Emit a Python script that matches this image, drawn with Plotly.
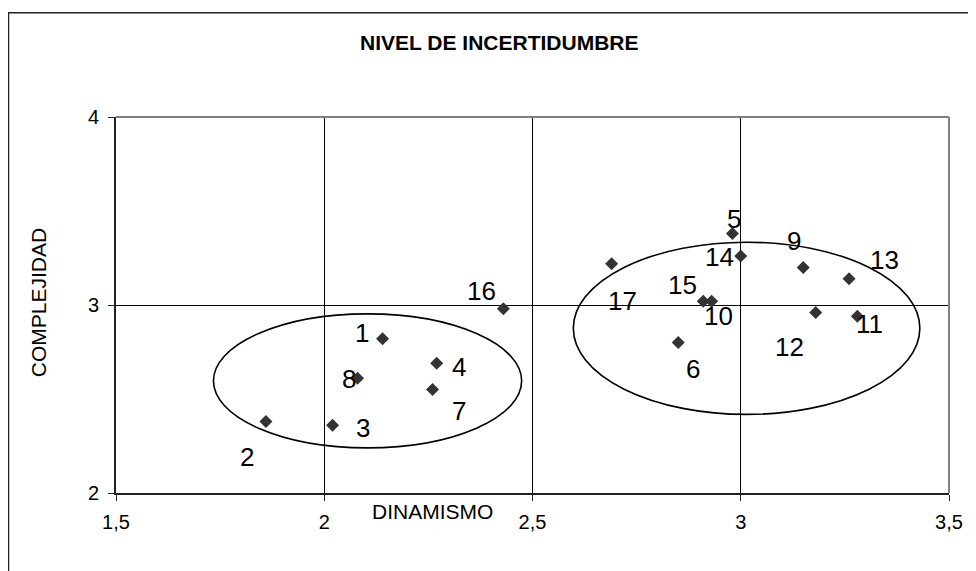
import plotly.graph_objects as go

# ---- data ----
labels = ["1", "2", "3", "4", "5", "6", "7", "8", "9", "10",
          "11", "12", "13", "14", "15", "16", "17"]
dinamismo = [2.14, 1.86, 2.02, 2.27, 2.98, 2.85, 2.26, 2.08, 3.15, 2.93,
             3.28, 3.18, 3.26, 3.00, 2.91, 2.43, 2.69]
complejidad = [2.82, 2.38, 2.36, 2.69, 3.38, 2.80, 2.55, 2.61, 3.20, 3.02,
               2.94, 2.96, 3.14, 3.26, 3.02, 2.98, 3.22]
x_ticks = [1.5, 2, 2.5, 3, 3.5]
y_ticks = [2, 3, 4]
# grouping ellipses (data coords): x0, y0, x1, y1
ellipse_left = [1.734, 2.240, 2.474, 2.953]
ellipse_right = [2.598, 2.418, 3.430, 3.334]

# ---- layout constants ----
OFF = 8  # default page body margin
W, H = 976 - OFF, 571 - OFF
L, R, T, B = 116 - OFF, 27, 116.5 - OFF, 78
PW, PH = W - L - R, H - T - B
FONT = "Liberation Sans, Arial, sans-serif"

def px(x):
    """window pixel x -> paper x"""
    return (x - OFF - L) / PW

def py(y):
    """window pixel y -> paper y"""
    return (H - B - (y - OFF)) / PH

# label offsets in pixels (xshift, yshift) per point
label_offsets = {
    "1": (-21, 6), "2": (-19, -35), "3": (30, -3), "4": (22, -4),
    "5": (2, 15), "6": (15, -26), "7": (26, -21), "8": (-9, -1),
    "9": (-9, 26), "10": (7, -15), "11": (12, -8), "12": (-26, -34),
    "13": (35, 19), "14": (-21, -1), "15": (-21, 16), "16": (-22, 18),
    "17": (11, -37),
}

fig = go.Figure()
fig.add_trace(go.Scatter(
    x=dinamismo, y=complejidad, mode="markers",
    marker=dict(symbol="diamond", size=10, color="#333333"),
    showlegend=False, hoverinfo="x+y",
))

annotations = []
for lab, xv, yv in zip(labels, dinamismo, complejidad):
    dx, dy = label_offsets[lab]
    annotations.append(dict(
        x=xv, y=yv, xref="x", yref="y", text=lab, showarrow=False,
        xanchor="center", yanchor="middle",
        xshift=dx, yshift=dy, font=dict(family=FONT, size=26, color="black"),
    ))

annotations += [
    dict(x=px(499), y=py(42), xref="paper", yref="paper",
         xanchor="center", yanchor="middle",
         text="<b>NIVEL DE INCERTIDUMBRE</b>", showarrow=False,
         font=dict(family=FONT, size=21, color="black")),
    dict(x=px(432), y=py(512), xref="paper", yref="paper",
         xanchor="center", yanchor="middle",
         text="DINAMISMO", showarrow=False,
         font=dict(family=FONT, size=21, color="black")),
    dict(x=px(38), y=py(303), xref="paper", yref="paper",
         xanchor="center", yanchor="middle",
         text="COMPLEJIDAD", showarrow=False, textangle=-90,
         font=dict(family=FONT, size=21, color="black")),
]

shapes = [
    # outer chart border (extends beyond right/bottom edge)
    dict(type="rect", xref="paper", yref="paper",
         x0=px(8.5), y0=py(620), x1=px(1000), y1=py(12),
         line=dict(color="#222222", width=1.5), fillcolor="rgba(0,0,0,0)", layer="below"),
    # plot-area frame top and right (gray)
    dict(type="line", xref="paper", yref="paper", x0=0, x1=1, y0=1, y1=1,
         line=dict(color="#808080", width=2)),
    dict(type="line", xref="paper", yref="paper", x0=1, x1=1, y0=0, y1=1,
         line=dict(color="#808080", width=2)),
    dict(type="circle", xref="x", yref="y",
         x0=ellipse_left[0], y0=ellipse_left[1], x1=ellipse_left[2], y1=ellipse_left[3],
         line=dict(color="black", width=1.6)),
    dict(type="circle", xref="x", yref="y",
         x0=ellipse_right[0], y0=ellipse_right[1], x1=ellipse_right[2], y1=ellipse_right[3],
         line=dict(color="black", width=1.6)),
]

axis_common = dict(
    showgrid=True, gridcolor="black", gridwidth=1,
    zeroline=False, showline=True, linecolor="#222222", linewidth=2,
    ticks="outside", ticklen=6, tickcolor="#222222", tickwidth=1,
    tickfont=dict(family=FONT, size=20, color="black"),
    fixedrange=True,
)

fig.update_layout(
    width=W, height=H,
    margin=dict(l=L, r=R, t=T, b=B, pad=0),
    paper_bgcolor="white", plot_bgcolor="white",
    separators=",.",
    xaxis=dict(range=[1.5, 3.5], tickvals=x_ticks, ticklabelstandoff=4, **axis_common),
    yaxis=dict(range=[2, 4], tickvals=y_ticks, ticklabelstandoff=5, **axis_common),
    annotations=annotations, shapes=shapes,
    font=dict(family=FONT, color="black"),
)

fig.write_html("out.html")
